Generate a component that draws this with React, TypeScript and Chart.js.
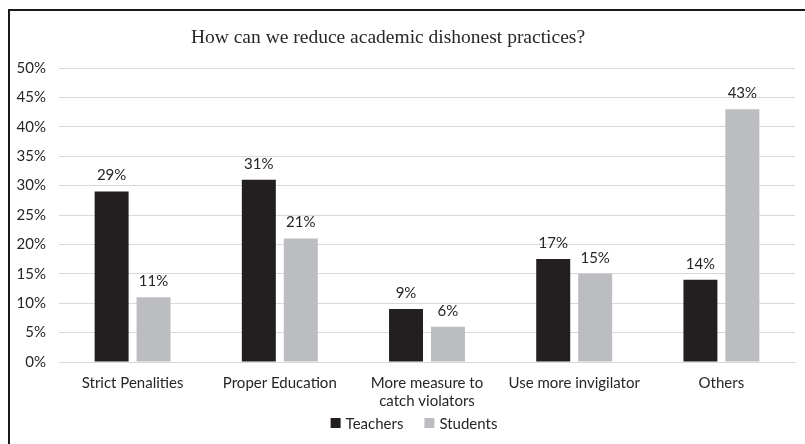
import React, { useEffect, useRef } from "react";
import { Chart, registerables } from "chart.js";

Chart.register(...registerables);

const title = "How can we reduce academic dishonest practices?";
const categories: (string | string[])[] = [
  "Strict Penalities",
  "Proper Education",
  ["More measure to", "catch violators"],
  "Use more invigilator",
  "Others",
];
const seriesNames = ["Teachers", "Students"];
const teachers = [29, 31, 9, 17.5, 14];
const students = [11, 21, 6, 15, 43];
const teacherLabels = ["29%", "31%", "9%", "17%", "14%"];
const studentLabels = ["11%", "21%", "6%", "15%", "43%"];
const yTicks = [0, 5, 10, 15, 20, 25, 30, 35, 40, 45, 50];
const colors = ["#231f20", "#bcbdc0"];

const FONT = "Lato, 'Noto Sans', sans-serif";
const TEXT = "#262626";

const dataLabelPlugin = {
  id: "dataLabels",
  afterDatasetsDraw(chart: any) {
    const ctx = chart.ctx;
    ctx.save();
    ctx.font = `15px ${FONT}`;
    ctx.fillStyle = TEXT;
    ctx.textAlign = "center";
    ctx.textBaseline = "middle";
    const lbls = [teacherLabels, studentLabels];
    chart.data.datasets.forEach((_: any, di: number) => {
      const meta = chart.getDatasetMeta(di);
      meta.data.forEach((bar: any, i: number) => {
        ctx.fillText(lbls[di][i], bar.x, bar.y - 16);
      });
    });
    ctx.restore();
  },
};

const titleLegendPlugin = {
  id: "titleLegend",
  afterDraw(chart: any) {
    const ctx = chart.ctx;
    ctx.save();
    // title
    ctx.font = `19.5px 'Liberation Serif', 'Times New Roman', serif`;
    ctx.fillStyle = TEXT;
    ctx.textAlign = "center";
    ctx.textBaseline = "middle";
    ctx.fillText(title, 388, 38);
    // legend
    ctx.font = `15px ${FONT}`;
    ctx.textAlign = "left";
    const box = 10;
    const gapBoxText = 5;
    const gapItems = 21;
    const widths = seriesNames.map((n) => box + gapBoxText + ctx.measureText(n).width);
    const total = widths.reduce((a, b) => a + b, 0) + gapItems * (widths.length - 1);
    let x = 414 - total / 2;
    const y = 423;
    seriesNames.forEach((n, i) => {
      ctx.fillStyle = colors[i];
      ctx.fillRect(x, y - box / 2, box, box);
      ctx.fillStyle = TEXT;
      ctx.fillText(n, x + box + gapBoxText, y + 1);
      x += widths[i] + gapItems;
    });
    ctx.restore();
  },
};

export default function App() {
  const ref = useRef<HTMLCanvasElement>(null);
  useEffect(() => {
    if (!ref.current) return;
    const chart = new Chart(ref.current, {
      type: "bar",
      data: {
        labels: categories,
        datasets: [
          {
            label: seriesNames[0],
            data: teachers,
            backgroundColor: colors[0],
            categoryPercentage: 0.57,
            barPercentage: 0.81,
          },
          {
            label: seriesNames[1],
            data: students,
            backgroundColor: colors[1],
            categoryPercentage: 0.57,
            barPercentage: 0.81,
          },
        ],
      },
      options: {
        animation: false,
        responsive: false,
        maintainAspectRatio: false,
        layout: { padding: { left: 0, right: 10, top: 68, bottom: 22 } },
        plugins: {
          title: { display: false },
          legend: { display: false },
          tooltip: { enabled: false },
        },
        scales: {
          x: {
            grid: { display: false, drawTicks: false },
            border: { color: "#d9d9d9", width: 1 },
            ticks: {
              color: TEXT,
              font: { family: FONT, size: 15, lineHeight: 1.2 },
              padding: 12,
              maxRotation: 0,
              autoSkip: false,
            },
          },
          y: {
            min: 0,
            max: 50,
            afterBuildTicks: (scale: any) => {
              scale.ticks = yTicks.map((v) => ({ value: v }));
            },
            afterFit: (scale: any) => {
              scale.width = 59;
            },
            grid: { color: "#d9d9d9", drawTicks: false },
            border: { display: false },
            ticks: {
              color: TEXT,
              font: { family: FONT, size: 15 },
              padding: 13,
              callback: (v: any) => `${v}%`,
            },
          },
        },
      },
      plugins: [dataLabelPlugin, titleLegendPlugin],
    });
    return () => chart.destroy();
  }, []);

  return (
    <div style={{ position: "fixed", left: 0, top: 0, width: 805, height: 444, background: "#fff", overflow: "hidden" }}>
      <div
        style={{
          position: "absolute",
          left: 8,
          top: 9,
          width: 830,
          height: 470,
          borderTop: "2px solid #1a1a1a",
          borderLeft: "2px solid #1a1a1a",
        }}
      />
      <canvas ref={ref} width={805} height={444} style={{ position: "absolute", left: 0, top: 0 }} />
    </div>
  );
}
